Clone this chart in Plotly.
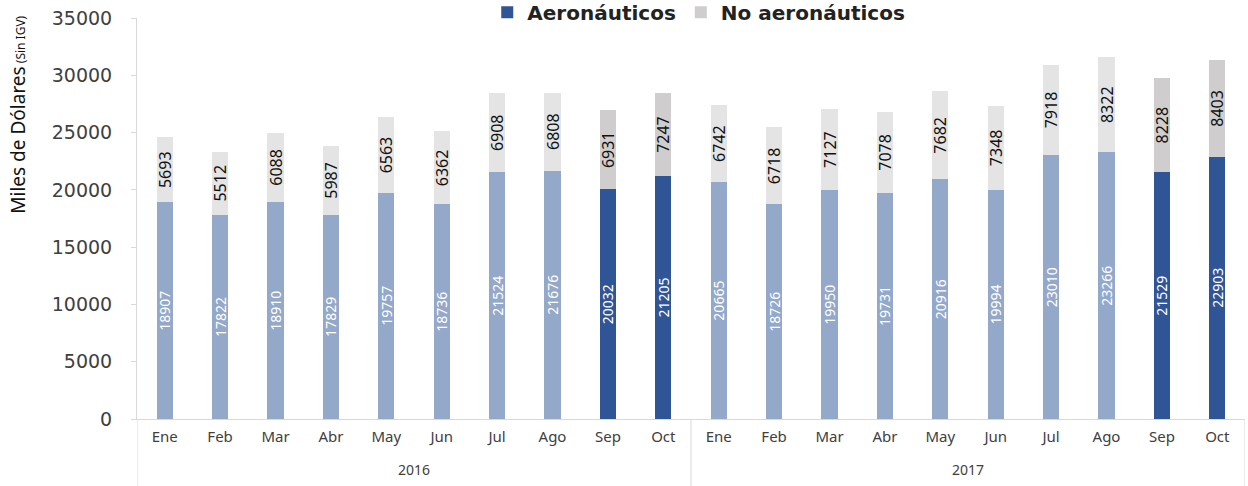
import plotly.graph_objects as go

years = ["2016"] * 10 + ["2017"] * 10
months = ["Ene", "Feb", "Mar", "Abr", "May", "Jun", "Jul", "Ago", "Sep", "Oct"] * 2
aero = [18907, 17822, 18910, 17829, 19757, 18736, 21524, 21676, 20032, 21205,
        20665, 18726, 19950, 19731, 20916, 19994, 23010, 23266, 21529, 22903]
no_aero = [5693, 5512, 6088, 5987, 6563, 6362, 6908, 6808, 6931, 7247,
           6742, 6718, 7127, 7078, 7682, 7348, 7918, 8322, 8228, 8403]
highlight = [m in ("Sep", "Oct") for m in months]

C_AERO_L = "#94A8C9"
C_AERO_D = "#2F5597"
C_NO_L = "#E4E4E4"
C_NO_D = "#CFCDCD"
AXIS_C = "#D9D9D9"

pos = list(range(len(months)))


def masked(vals, keep):
    return [v if k else None for v, k in zip(vals, keep)]


def txt(vals):
    return [str(v) if v is not None else "" for v in vals]


not_hl = [not h for h in highlight]
specs = [
    (masked(aero, not_hl), C_AERO_L, "Aeronáuticos", False, "white", 14),
    (masked(aero, highlight), C_AERO_D, "Aeronáuticos", True, "white", 14),
    (masked(no_aero, not_hl), C_NO_L, "No aeronáuticos", False, "#111111", 16),
    (masked(no_aero, highlight), C_NO_D, "No aeronáuticos", True, "#111111", 16),
]

fig = go.Figure()
for ys, col, name, sl, tcol, tsize in specs:
    fig.add_trace(go.Bar(
        x=pos, y=ys, name=name, showlegend=sl,
        marker=dict(color=col, line=dict(width=0)),
        text=txt(ys), textposition="inside", textangle=-90,
        insidetextanchor="middle", constraintext="none",
        textfont=dict(color=tcol, size=tsize, family="Noto Sans"),
        hoverinfo="skip",
    ))

# year group labels and dividers
annotations = []
shapes = []
year_order = list(dict.fromkeys(years))
for yv in year_order:
    idx = [i for i, v in enumerate(years) if v == yv]
    annotations.append(dict(text=yv, xref="x", yref="paper", x=sum(idx) / len(idx), y=-0.127,
                            xanchor="center", yanchor="middle", showarrow=False,
                            font=dict(size=14, color="#404040", family="Noto Sans")))
bounds = [-0.5] + [i - 0.5 for i in range(1, len(years)) if years[i] != years[i - 1]] + [len(years) - 0.5]
for b in bounds:
    shapes.append(dict(type="line", xref="x", yref="paper", x0=b, x1=b, y0=0, y1=-0.17,
                       line=dict(color=AXIS_C, width=1)))

annotations.append(dict(
    text="Miles de Dólares<span style='font-size:12px'> (Sin IGV)</span>",
    xref="paper", yref="paper", x=-0.107, y=0.76, xanchor="center", yanchor="middle",
    textangle=-90, showarrow=False,
    font=dict(size=19, color="#111111", family="Liberation Sans Narrow, Noto Sans"),
))

fig.update_layout(
    barmode="stack",
    bargap=0.71,
    width=1248, height=486,
    margin=dict(l=137, r=3, t=18, b=67, autoexpand=False),
    paper_bgcolor="white", plot_bgcolor="white",
    font=dict(family="Noto Sans", color="#404040"),
    legend=dict(orientation="h", x=0.507, xanchor="center",
                yref="container", y=0.975, yanchor="middle",
                font=dict(size=20, color="#222222", family="DejaVu Sans", weight="bold"),
                bgcolor="rgba(0,0,0,0)", traceorder="normal"),
    yaxis=dict(range=[0, 35000], dtick=5000, showgrid=False, zeroline=False,
               showline=True, linecolor=AXIS_C, linewidth=1, automargin=False,
               ticks="outside", ticklen=5, tickcolor=AXIS_C, ticklabelstandoff=15,
               tickfont=dict(size=19, color="#404040", family="DejaVu Sans"), tickformat="d"),
    xaxis=dict(range=[-0.5, len(months) - 0.5], tickmode="array", tickvals=pos, ticktext=months,
               showline=True, linecolor=AXIS_C, linewidth=1, zeroline=False,
               automargin=False, ticks="", ticklabelstandoff=4,
               tickfont=dict(size=15, color="#404040"), showgrid=False),
    annotations=annotations,
    shapes=shapes,
)

fig.write_html("out.html", config={"displayModeBar": False},
               post_script="document.body.style.margin='0';")
